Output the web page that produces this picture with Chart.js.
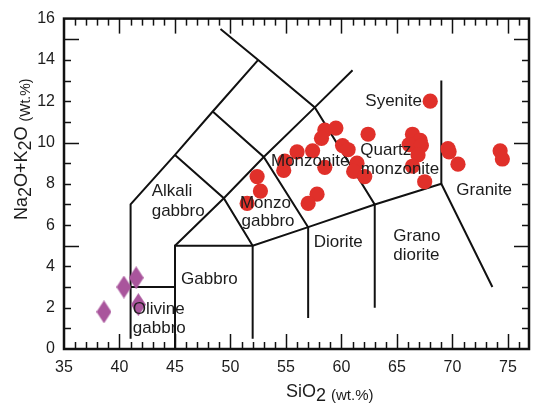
<!DOCTYPE html>
<html>
<head>
<meta charset="utf-8">
<script src="https://cdn.jsdelivr.net/npm/chart.js@4"></script>
<style>
  body { margin: 0; background: #fff; }
  canvas { display: block; }
</style>
</head>
<body>
<canvas id="tas" width="538" height="404"></canvas>
<script>
// samples: SiO2 vs Na2O+K2O (wt.%)
const redSiO2 = [68.0, 58.5, 59.5, 58.2, 62.4, 66.4, 67.1, 66.1, 67.2, 60.1,
                 60.6, 57.4, 56.0, 66.9, 69.6, 69.7, 70.5, 74.3, 74.5, 54.9,
                 54.8, 58.5, 61.4, 61.1, 62.1, 66.4, 67.5, 52.4, 52.7, 57.8,
                 57.0, 51.5];
const redAlk = [12.0, 10.6, 10.7, 10.2, 10.4, 10.4, 10.1, 9.9, 9.85, 9.85,
                9.65, 9.6, 9.55, 9.4, 9.7, 9.55, 8.95, 9.6, 9.2, 9.1,
                8.65, 8.8, 9.0, 8.6, 8.35, 8.85, 8.1, 8.35, 7.65, 7.5,
                7.05, 7.05];
const purpleSiO2 = [38.6, 40.4, 41.5, 41.7];
const purpleAlk = [1.8, 3.0, 3.45, 2.15];

// field boundaries of the plutonic TAS grid
const fieldLines = [
  [[41, 0.5], [41, 7], [45, 9.4], [48.4, 11.5], [52.5, 14]],
  [[49.1, 15.5], [52.5, 14], [57.6, 11.7], [63, 7], [69, 8], [73.6, 3]],
  [[45, 0], [45, 5], [52, 5], [57, 5.9], [63, 7]],
  [[45, 5], [49.4, 7.3], [53, 9.3], [57.6, 11.7], [61, 13.5]],
  [[45, 9.4], [49.4, 7.3], [52, 5], [52, 0.5]],
  [[48.4, 11.5], [53, 9.3], [57, 5.9], [57, 1.5]],
  [[63, 7], [63, 2]],
  [[69, 8], [69, 13]],
  [[41, 3], [45, 3]]
];

// field names, left edge x / middle y in data units
const fieldLabels = [
  ["Syenite", 62.15, 12.0],
  ["Monzonite", 53.65, 9.1],
  ["Quartz", 61.7, 9.62],
  ["monzonite", 61.75, 8.68],
  ["Granite", 70.35, 7.68],
  ["Alkali", 42.9, 7.64],
  ["gabbro", 42.9, 6.67],
  ["Monzo", 50.85, 7.07],
  ["gabbro", 51.0, 6.18],
  ["Gabbro", 45.55, 3.38],
  ["Diorite", 57.5, 5.19],
  ["Grano", 64.67, 5.48],
  ["diorite", 64.67, 4.54],
  ["Olivine", 41.2, 1.92],
  ["gabbro", 41.2, 1.0]
];

const xTicks = [35, 40, 45, 50, 55, 60, 65, 70, 75];
const yTicks = [0, 2, 4, 6, 8, 10, 12, 14, 16];

const FONT = '"Liberation Sans", Arial, sans-serif';

// tall diamond marker
const diamond = document.createElement('canvas');
diamond.width = 15;
diamond.height = 23;
(function() {
  const c = diamond.getContext('2d');
  c.fillStyle = '#a9559c';
  c.beginPath();
  c.moveTo(7.5, 0);
  c.lineTo(15, 11.5);
  c.lineTo(7.5, 23);
  c.lineTo(0, 11.5);
  c.closePath();
  c.fill();
})();

const datasets = [];
datasets.push({
  data: redSiO2.map((v, i) => ({x: v, y: redAlk[i]})),
  pointStyle: 'circle',
  pointRadius: 7.6,
  backgroundColor: '#e0302a',
  borderWidth: 0,
  order: 1
});
datasets.push({
  data: purpleSiO2.map((v, i) => ({x: v, y: purpleAlk[i]})),
  pointStyle: diamond,
  pointRadius: 8,
  order: 1
});
fieldLines.forEach(function(seg) {
  datasets.push({
    data: seg.map(p => ({x: p[0], y: p[1]})),
    showLine: true,
    pointRadius: 0,
    borderColor: '#111',
    borderWidth: 2,
    fill: false,
    order: 5
  });
});

function seg(ctx, x1, y1, x2, y2) {
  ctx.beginPath();
  ctx.moveTo(x1, y1);
  ctx.lineTo(x2, y2);
  ctx.stroke();
}

const decor = {
  id: 'decor',
  afterDatasetsDraw(chart) {
    const ctx = chart.ctx;
    const a = chart.chartArea;
    const x = chart.scales.x, y = chart.scales.y;
    ctx.save();

    // labels inside the fields
    ctx.fillStyle = '#1c1c1c';
    ctx.font = '17px ' + FONT;
    ctx.textAlign = 'left';
    ctx.textBaseline = 'middle';
    fieldLabels.forEach(function(l) {
      ctx.fillText(l[0], x.getPixelForValue(l[1]), y.getPixelForValue(l[2]));
    });

    // inward ticks
    ctx.strokeStyle = '#111';
    ctx.lineWidth = 1.5;
    for (let v = 36; v <= 76; v++) {
      const px = Math.round(x.getPixelForValue(v)) + 0.5;
      const len = v % 5 === 0 ? 15 : 7;
      seg(ctx, px, a.bottom, px, a.bottom - len);
      seg(ctx, px, a.top, px, a.top + len);
    }
    for (let v = 1; v <= 15; v++) {
      const py = Math.round(y.getPixelForValue(v)) + 0.5;
      const len = v % 5 === 0 ? 15 : 7;
      seg(ctx, a.left, py, a.left + len, py);
      seg(ctx, a.right, py, a.right - len, py);
    }

    // frame
    ctx.lineWidth = 2.5;
    ctx.strokeRect(a.left, a.top, a.right - a.left, a.bottom - a.top);

    // axis titles
    ctx.fillStyle = '#1c1c1c';
    ctx.textAlign = 'left';
    ctx.textBaseline = 'alphabetic';
    let cx = 286;
    ctx.font = '18px ' + FONT;
    ctx.fillText('SiO', cx, 397);
    cx += ctx.measureText('SiO').width;
    ctx.fillText('2', cx, 401);
    cx += ctx.measureText('2 ').width;
    ctx.font = '15px ' + FONT;
    ctx.fillText('(wt.%)', cx, 400);

    ctx.translate(27, 220);
    ctx.rotate(-Math.PI / 2);
    const parts = [['Na', 0, 18], ['2', 4, 18], ['O+K', 0, 18], ['2', 4, 18], ['O ', 0, 18], ['(Wt.%)', 3, 14]];
    let t = 0;
    parts.forEach(function(p) {
      ctx.font = p[2] + 'px ' + FONT;
      ctx.fillText(p[0], t, p[1]);
      t += ctx.measureText(p[0]).width;
    });
    ctx.restore();
  }
};

new Chart(document.getElementById('tas'), {
  type: 'scatter',
  data: { datasets: datasets },
  plugins: [decor],
  options: {
    responsive: false,
    animation: false,
    devicePixelRatio: 1,
    events: [],
    layout: { padding: { top: 18, right: 1, left: 0, bottom: 0 } },
    plugins: { legend: { display: false }, tooltip: { enabled: false } },
    scales: {
      x: {
        type: 'linear',
        min: 35,
        max: 76.9,
        grid: { display: false, drawTicks: false },
        border: { display: false },
        afterBuildTicks: s => { s.ticks = xTicks.map(v => ({value: v})); },
        afterFit: s => { s.height = 55; },
        ticks: { color: '#1c1c1c', font: { size: 16, family: FONT }, padding: 9, maxRotation: 0 }
      },
      y: {
        type: 'linear',
        min: 0,
        max: 16,
        grid: { display: false, drawTicks: false },
        border: { display: false },
        afterBuildTicks: s => { s.ticks = yTicks.map(v => ({value: v})); },
        afterFit: s => { s.width = 64; },
        ticks: { color: '#1c1c1c', font: { size: 16, family: FONT }, padding: 9 }
      }
    }
  }
});
</script>
</body>
</html>
